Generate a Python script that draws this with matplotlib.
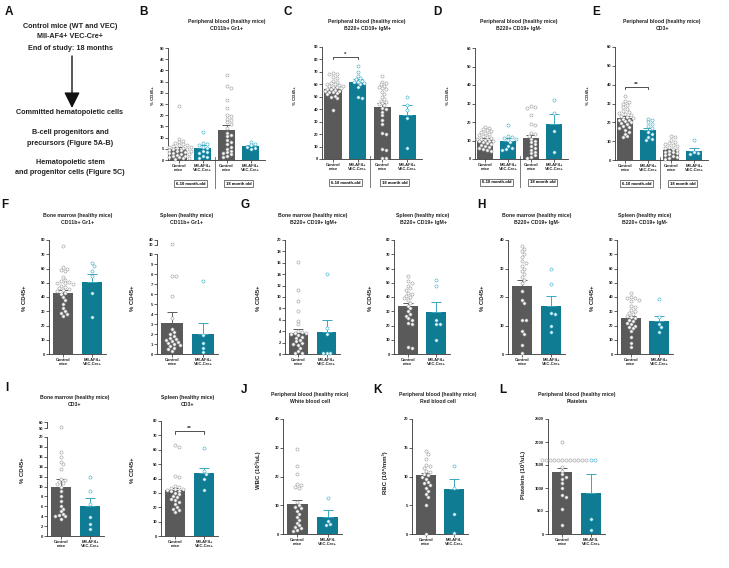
import matplotlib
matplotlib.use('Agg')
import matplotlib.pyplot as plt
import matplotlib.transforms as mtransforms
import numpy as np

plt.rcParams['font.family'] = ['Liberation Sans', 'DejaVu Sans']
plt.rcParams['font.weight'] = 'bold'

# ---- data ----
lab4 = ['Control\nmice', 'MII-AF4+\nVEC-Cre+', 'Control\nmice', 'MII-AF4+\nVEC-Cre+']
lab2 = ['Control\nmice', 'MII-AF4+\nVEC-Cre+']
lab2_wbc = ['Control\nmice', 'MII-AF4-\nVEC-Cre+']

# B: peripheral blood CD11b+ Gr1+
B_means = [5.0, 5.5, 13.5, 6.3]
B_sem = [0.8, 1.0, 2.0, 0.6]
B_pts = [[24, 9.5, 8.5, 8, 7.5, 7, 6.8, 6.5, 6.2, 6, 5.8, 5.5, 5.2, 5, 4.8, 4.5, 4.3, 4, 3.8, 3.5,
          3.3, 3, 2.8, 2.5, 2.3, 2, 1.8, 1.5, 1.2, 1, 0.8, 0.5],
         [12.5, 7.5, 7, 6.5, 6, 5.5, 4, 3.5, 3, 2, 1.5, 1],
         [38, 33, 32, 27, 23, 20, 19.5, 18.5, 18, 17, 16, 14.5, 12, 11, 10.5, 9, 8, 7, 6, 5, 4, 3.5,
          3, 2.5, 2, 1.5],
         [8, 7, 6.5, 6, 5.5, 5]]
# C: B220+ CD19+ IgM+
C_means = [56.5, 62, 42, 35]
C_sem = [1.0, 2.0, 3.0, 8.5]
C_pts = [[69, 68.5, 68, 66, 65, 63, 62, 61, 60.5, 60, 59.5, 59, 58.5, 58, 57.5, 57, 56.5, 56, 55.5,
          55, 54.5, 54, 53.5, 53, 52, 51, 50, 49, 39],
         [75, 70, 67, 65, 64, 63, 62, 61.5, 61, 60, 58, 50, 49],
         [67, 62, 61, 60, 59, 58, 57, 56, 54, 52, 50, 48, 47, 46, 45, 44, 43, 41, 40, 38, 35, 31, 28,
          21, 20, 8, 7, 1, 0.5],
         [50, 43, 39, 33, 9]]
# D: B220+ CD19+ IgM-
D_means = [10.5, 10, 11.5, 19]
D_sem = [0.6, 1.2, 1.5, 5.5]
D_pts = [[17.5, 17, 16, 15.5, 15, 14.5, 14, 13.5, 13, 12.5, 12, 11.5, 11, 11, 10.5, 10, 10, 9.5, 9,
          8.5, 8, 7.5, 7, 6.5, 6, 5.5, 5, 4.5],
         [18.5, 12.5, 12, 11.5, 11, 10.5, 9, 7, 6, 5.5, 5],
         [28.5, 28, 27.5, 24, 19, 18.5, 14, 13.5, 12.5, 11, 10, 9, 8, 7, 6, 5, 4, 3, 2, 1, 0.5],
         [32, 25, 15, 4]]
# E: CD3+
E_means = [22.5, 16, 5.5, 5]
E_sem = [0.8, 1.2, 0.6, 1.5]
E_pts = [[34, 31.5, 31, 30, 29, 28, 27, 26, 25.5, 25, 24.5, 24, 23.5, 23, 22.5, 22, 21.5, 21, 20.5,
          20, 19.5, 19, 18, 17.5, 17, 16, 15, 14, 12.5, 12],
         [22, 21.5, 20, 19, 18, 17, 15, 14, 12, 11, 10.5],
         [13, 12, 10.5, 9.5, 9, 8.5, 8, 7.5, 7, 6.5, 6, 5.5, 5, 4.5, 4, 3.5, 3, 2.5, 2, 1.5, 1, 0.5],
         [10.5, 4, 3.5, 3]]
# F
Fbm_means = [43, 50.5]
Fbm_sem = [2, 5.5]
Fbm_pts = [[76, 61, 60, 59, 58, 54, 52, 51, 50.5, 50, 49.5, 49, 48, 47, 46, 45.5, 45, 44, 43, 42, 40,
            38, 35, 32, 30, 29, 28, 27],
           [64, 62, 58, 55, 43, 26]]
Fsp_means = [3.1, 2.0]
Fsp_sem = [1.1, 1.1]
Fsp_pts = [[32, 7.8, 7.8, 5.8, 3.6, 2.5, 2.2, 2, 1.8, 1.6, 1.5, 1.4, 1.3, 1.2, 1.1, 1.0, 0.9, 0.8,
            0.6, 0.5, 0.3],
           [7.3, 1.9, 1.1, 0.6, 0.2]]
# G
Gbm_means = [3.6, 3.8]
Gbm_sem = [0.7, 2.1]
Gbm_pts = [[16.2, 11.2, 9.3, 7.6, 5.8, 5.2, 4.0, 3.8, 3.7, 3.6, 3.5, 3.3, 3.0, 2.8, 2.5, 2.2, 2.0,
            1.8, 1.5, 1.0, 0.5, 0.2, 0.1],
           [14, 4.5, 3.5, 0.2, 0.15, 0.1]]
Gsp_means = [33.5, 29.5]
Gsp_sem = [2, 7]
Gsp_pts = [[55, 51, 50, 48, 46, 45, 43, 42, 41, 40, 39, 38, 36, 34, 32, 30, 28, 27, 25, 24, 22, 21,
            5, 4],
           [52, 48, 24, 21, 21, 10]]
# H
Hbm_means = [24, 17]
Hbm_sem = [2, 3.5]
Hbm_pts = [[38, 37, 36, 35, 34, 32.5, 32, 31, 30, 29, 28, 27, 26, 25, 22, 19, 18, 12, 12, 8, 7, 3,
            0.5],
           [30, 24.5, 14.5, 14, 9.8, 7.8]]
Hsp_means = [25.5, 23.5]
Hsp_sem = [1.5, 3.5]
Hsp_pts = [[43, 40, 39.5, 39, 38, 37, 34, 33, 31, 30, 29, 28, 27, 26, 25, 24, 23, 22, 21, 20, 19, 18,
            16, 12, 8, 5],
           [38.5, 26, 21, 19, 15.5]]
# I
Ibm_means = [10, 6]
Ibm_sem = [1.6, 1.6]
Ibm_pts = [[51, 17, 16, 15, 14.5, 13.5, 11.5, 11.3, 11, 10.8, 10.5, 10, 9, 8, 7, 6, 5.5, 5, 4.5, 4.2,
            4, 4, 3.5],
           [12, 9, 6.5, 3.8, 2.5, 1.5]]
Isp_means = [32, 44]
Isp_sem = [1.2, 3.5]
Isp_pts = [[63, 62, 42, 41, 35, 34, 33.5, 33, 32.5, 32, 31.5, 31, 30, 29, 28, 27, 26, 25, 24, 22, 20,
            19, 18, 17],
           [61.5, 45, 43, 40, 32]]
# J, K, L
J_means = [10.3, 6.0]
J_sem = [1.5, 2.2]
J_pts = [[29.5, 23.5, 21, 17.5, 17, 16.5, 16, 11, 10, 9.5, 9, 8, 7, 6, 5, 4, 3, 2.5, 2, 1.5, 1],
         [12.5, 4.5, 3.5, 3]]
K_means = [10.2, 7.8]
K_sem = [0.4, 1.7]
K_pts = [[14.5, 14, 13, 12, 11.8, 11.5, 11, 10.8, 10.5, 10.2, 10, 9.5, 9, 8.8, 8.5, 8, 7.5, 7, 6.5,
          5, 0],
         [11.8, 8, 3.5, 0.1]]
L_means = [1350, 900]
L_sem = [80, 400]
L_pts = [[2000] + [1600] * 12 + [1450, 1380, 1300, 1250, 1200, 1100, 1000, 850, 800, 550, 200],
         [1600, 1600, 330, 80]]

# ---- drawing ----
W, H = 729, 568
fig = plt.figure(figsize=(W / 100, H / 100), dpi=100)

CTRL = '#5a5a5a'
MII = '#107c94'
CTRL_PT = '#a3a3a3'
MII_PT = '#4ab3cb'
MII_ERR = '#3aa6c0'


def box(x0, y0, x1, y1):
    return [x0 / W, 1 - y1 / H, (x1 - x0) / W, (y1 - y0) / H]


def ftext(x, y, s, **kw):
    fig.text(x / W, 1 - y / H, s, **kw)


def swarm(vals, cx, xsc, ysc, d=3.3):
    placed, out = [], []
    for v in vals:
        py = v * ysc
        k = 0
        while True:
            step = (k + 1) // 2
            off = step * (1 if k % 2 else -1) * d * 0.6
            px = cx * xsc + off
            if all((px - a) ** 2 + (py - b) ** 2 >= (d * 0.95) ** 2 for a, b in placed):
                break
            k += 1
        placed.append((px, py))
        out.append(px / xsc)
    return out


def style(ax, fs):
    for s in ['top', 'right']:
        ax.spines[s].set_visible(False)
    for s in ['left', 'bottom']:
        ax.spines[s].set_linewidth(0.6)
        ax.spines[s].set_color('#333333')
    ax.tick_params(length=2, width=0.5, labelsize=fs, pad=0.8, colors='#222222')


def panel(pix, means, sems, pts, ylim, ystep, labels, xlim, width, fs=3.0, top=None):
    x0, y0, x1, y1 = pix
    ax = fig.add_axes(box(*pix))
    xs = np.arange(len(means))
    cols = [CTRL if i % 2 == 0 else MII for i in xs]
    ax.bar(xs, means, width=width, color=cols, zorder=1)
    for i in xs:
        ax.errorbar(xs[i], means[i], yerr=[[0], [sems[i]]], color=CTRL if i % 2 == 0 else MII_ERR,
                    capsize=3.5, lw=0.7, capthick=0.7, zorder=2)
    ax.set_xlim(xlim)
    ax.set_ylim(ylim)
    xsc = (x1 - x0) / (xlim[1] - xlim[0])
    ysc = (y1 - y0) / (ylim[1] - ylim[0])
    tax = None
    if top is not None:
        tpix, tlim = top
        tax = fig.add_axes(box(*tpix))
        tax.set_xlim(xlim)
        tax.set_ylim(tlim)
        tax.set_yticks(tlim)
        tax.set_xticks([])
        style(tax, fs)
        tax.spines['bottom'].set_visible(False)
        tax.patch.set_alpha(0)
    for i in xs:
        ec = CTRL_PT if i % 2 == 0 else MII_PT
        vals = sorted([v for v in pts[i] if v <= ylim[1]], reverse=True)
        ax.scatter(swarm(vals, xs[i], xsc, ysc), vals, s=5, facecolor='white', edgecolor=ec,
                   lw=0.45, zorder=3, clip_on=False)
        if tax is not None:
            hi = [v for v in pts[i] if v >= top[1][0]]
            if hi:
                tax.scatter([xs[i]] * len(hi), hi, s=5, facecolor='white', edgecolor=ec,
                            lw=0.45, zorder=3, clip_on=False)
    ax.set_yticks(np.arange(ylim[0], ylim[1] + ystep / 2, ystep))
    ax.set_xticks(xs)
    ax.set_xticklabels(labels, fontsize=fs, linespacing=1.0)
    style(ax, fs)
    return ax


def bracket(ax, a, b, y, d, s):
    ax.plot([a, a, b, b], [y - d, y, y, y - d], color='#333333', lw=0.6, clip_on=False)
    ax.text((a + b) / 2, y, s, ha='center', va='bottom', fontsize=4.5, color='#333333')


def groups(ax):
    tr = mtransforms.blended_transform_factory(ax.transData, ax.transAxes)
    ax.plot([1.5, 1.5], [0.03, -0.25], transform=tr, color='#666666', lw=0.6, clip_on=False)
    for x, s in [(0.5, '6-10 month-old'), (2.5, '18 month old')]:
        ax.text(x, -0.21, s, transform=tr, ha='center', va='center', fontsize=3.0,
                bbox=dict(boxstyle='square,pad=0.4', fc='white', ec='#444444', lw=0.5))


def title(x, y, s):
    ftext(x, y, s, ha='center', va='center', fontsize=3.7, linespacing=1.3, color='#222222')


def ylab(x, y, s, fs=4.3):
    ftext(x, y, s, ha='center', va='center', rotation=90, fontsize=fs, color='#222222')


def letter(x, y, s):
    ftext(x, y, s, ha='center', va='center', fontsize=8.5, color='#111111')


# panel A: text with arrow
for y, s in [(27, 'Control mice (WT and VEC)'), (37, 'MII-AF4+ VEC-Cre+'),
             (48, 'End of study: 18 months'), (113, 'Committed hematopoietic cells'),
             (133, 'B-cell progenitors and'), (143, 'precursors (Figure 5A-B)'),
             (163, 'Hematopoietic stem'), (173, 'and progenitor cells (Figure 5C)')]:
    ftext(70, y, s, ha='center', va='center', fontsize=5.2, color='#222222')
over = fig.add_axes([0, 0, 1, 1])
over.set_xlim(0, W)
over.set_ylim(H, 0)
over.axis('off')
over.annotate('', xy=(72, 108), xytext=(72, 56),
              arrowprops=dict(arrowstyle='-|>,head_length=0.8,head_width=0.4', color='#111111',
                              lw=1.0, mutation_scale=12, shrinkA=0, shrinkB=0))

# row 1
x4 = (-0.45, 3.6)
axB = panel([168, 48, 265, 160], B_means, B_sem, B_pts, (0, 50), 5, lab4, x4, 0.7, fs=3.0)
axC = panel([322, 47, 422, 159], C_means, C_sem, C_pts, (0, 90), 10, lab4, x4, 0.7, fs=3.0)
axD = panel([475, 48, 568, 159], D_means, D_sem, D_pts, (0, 60), 10, lab4, x4, 0.7, fs=3.0)
axE = panel([615, 47, 708, 160], E_means, E_sem, E_pts, (0, 60), 10, lab4, x4, 0.7, fs=3.0)
for ax in [axB, axC, axD, axE]:
    groups(ax)
bracket(axC, 0, 1, 82, 2, '*')
bracket(axE, 0, 1, 39, 1.3, '**')
title(227, 25, 'Peripheral blood (healthy mice)\nCD11b+ Gr1+')
title(367, 25, 'Peripheral blood (healthy mice)\nB220+ CD19+ IgM+')
title(519, 25, 'Peripheral blood (healthy mice)\nB220+ CD19+ IgM-')
title(662, 25, 'Peripheral blood (healthy mice)\nCD3+')
for x in [153, 295, 448, 588]:
    ylab(x, 96, '% CD45+', fs=3.2)

# row 2
x2 = (-0.48, 1.48)
panel([49, 240, 106, 354], Fbm_means, Fbm_sem, Fbm_pts, (0, 80), 10, lab2, x2, 0.69)
panel([157, 254, 218, 354], Fsp_means, Fsp_sem, Fsp_pts, (0, 10), 1, lab2, x2, 0.69,
      top=([157, 240, 218, 245], (30, 40)))
panel([285, 240, 340, 354], Gbm_means, Gbm_sem, Gbm_pts, (0, 20), 2, lab2, x2, 0.69)
panel([394, 240, 450, 354], Gsp_means, Gsp_sem, Gsp_pts, (0, 80), 10, lab2, x2, 0.69)
panel([508, 240, 565, 354], Hbm_means, Hbm_sem, Hbm_pts, (0, 40), 10, lab2, x2, 0.69)
panel([617, 240, 673, 354], Hsp_means, Hsp_sem, Hsp_pts, (0, 80), 10, lab2, x2, 0.69)
title(78, 219, 'Bone marrow (healthy mice)\nCD11b+ Gr1+')
title(187, 219, 'Spleen (healthy mice)\nCD11b+ Gr1+')
title(313, 219, 'Bone marrow (healthy mice)\nB220+ CD19+ IgM+')
title(423, 219, 'Spleen (healthy mice)\nB220+ CD19+ IgM+')
title(537, 219, 'Bone marrow (healthy mice)\nB220+ CD19+ IgM-')
title(645, 219, 'Spleen (healthy mice)\nB220+ CD19+ IgM-')
for x in [25, 133, 258, 370, 482, 592]:
    ylab(x, 298, '% CD45+')

# row 3
panel([47, 437, 104, 536], Ibm_means, Ibm_sem, Ibm_pts, (0, 20), 2, lab2, x2, 0.69,
      top=([47, 422, 104, 428], (50, 60)))
axIs = panel([161, 421, 218, 536], Isp_means, Isp_sem, Isp_pts, (0, 80), 10, lab2, x2, 0.69)
bracket(axIs, 0, 1, 73, 2, '**')
panel([283, 419, 342, 534], J_means, J_sem, J_pts, (0, 40), 10, lab2_wbc, x2, 0.69)
panel([412, 419, 468, 534], K_means, K_sem, K_pts, (0, 20), 5, lab2_wbc, x2, 0.69)
panel([548, 419, 605, 534], L_means, L_sem, L_pts, (0, 2500), 500, lab2_wbc, x2, 0.69)
title(75, 401, 'Bone marrow (healthy mice)\nCD3+')
title(188, 401, 'Spleen (healthy mice)\nCD3+')
title(310, 398, 'Peripheral blood (healthy mice)\nWhite blood cell')
title(438, 398, 'Peripheral blood (healthy mice)\nRed blood cell')
title(577, 398, 'Peripheral blood (healthy mice)\nPlatelets')
ylab(22, 470, '% CD45+')
ylab(133, 470, '% CD45+')
ylab(258, 470, 'WBC (10³/uL)')
ylab(385, 473, 'RBC (10⁶/mm³)')
ylab(523, 475, 'Platelets (10³/uL)')

for x, y, s in [(9, 12, 'A'), (143, 12, 'B'), (288, 12, 'C'), (437, 12, 'D'), (596, 12, 'E'),
                (5, 205, 'F'), (245, 205, 'G'), (481, 205, 'H'), (7, 388, 'I'), (244, 390, 'J'),
                (378, 390, 'K'), (503, 390, 'L')]:
    letter(x, y, s)

fig.savefig('out.png', dpi=100)
